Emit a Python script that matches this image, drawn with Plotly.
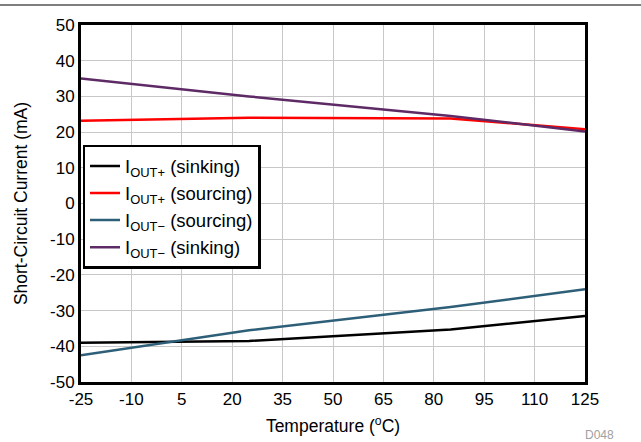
import plotly.graph_objects as go

temps = [-25, 25, 85, 125]
iout_pos_sink = [-39.0, -38.5, -35.3, -31.5]
iout_pos_src = [23.2, 24.0, 23.8, 20.8]
iout_neg_src = [-42.5, -35.5, -29.0, -24.0]
iout_neg_sink = [35.0, 30.0, 24.5, 20.2]

x_ticks = list(range(-25, 126, 15))
y_ticks = list(range(-50, 51, 10))

series = [
    ("I<sub>OUT+</sub> (sinking)", iout_pos_sink, "#000000"),
    ("I<sub>OUT+</sub> (sourcing)", iout_pos_src, "#ff0000"),
    ("I<sub>OUT\u2212</sub> (sourcing)", iout_neg_src, "#2e5f78"),
    ("I<sub>OUT\u2212</sub> (sinking)", iout_neg_sink, "#5e2a66"),
]

fig = go.Figure()
for name, ys, col in series:
    fig.add_trace(go.Scatter(x=temps, y=ys, mode="lines", name=name,
                             line=dict(color=col, width=2.5)))

W, H = 641, 442
ml, mr, mt, mb = 81, 56, 25, 60
pw, ph = W - ml - mr, H - mt - mb

fig.update_layout(
    width=W, height=H,
    margin=dict(l=ml, r=mr, t=mt, b=mb, autoexpand=False),
    paper_bgcolor="white", plot_bgcolor="white",
    font=dict(family="Liberation Sans, Arial, sans-serif", size=17, color="black"),
    showlegend=True,
    legend=dict(x=0.003, y=0.664, xanchor="left", yanchor="top",
                bgcolor="white", bordercolor="black", borderwidth=2.5,
                font=dict(size=18.5), tracegroupgap=0),
    xaxis=dict(range=[-25, 125], tickvals=x_ticks,
               ticktext=[str(v) for v in x_ticks], showgrid=True,
               gridcolor="#c8c8c8", gridwidth=1, zeroline=False,
               showline=True, linecolor="black", linewidth=3, mirror=True,
               ticks="", title=dict(text="Temperature (<sup>o</sup>C)", standoff=12,
                                    font=dict(size=17.5))),
    yaxis=dict(range=[-50, 50], tickvals=y_ticks,
               ticktext=[str(v) for v in y_ticks], showgrid=True,
               gridcolor="#c8c8c8", gridwidth=1, zeroline=False,
               showline=True, linecolor="black", linewidth=3, mirror=True,
               ticks="", title=dict(text="Short-Circuit Current (mA)", standoff=18,
                                    font=dict(size=17.5))),
)

# top rule line across page
fig.add_shape(type="line", xref="paper", yref="paper",
              x0=-ml / pw, x1=(W - ml) / pw,
              y0=1 + 20 / ph, y1=1 + 20 / ph,
              line=dict(color="#555555", width=1.5))

fig.add_annotation(text="D048", xref="paper", yref="paper",
                   x=(616 - ml) / pw, y=-(444 - 382) / ph,
                   xanchor="right", yanchor="bottom", showarrow=False,
                   font=dict(size=12, color="#a0a0a0"))

fig.write_html("out.html", config={"displayModeBar": False},
               post_script="document.body.style.margin='0';")
